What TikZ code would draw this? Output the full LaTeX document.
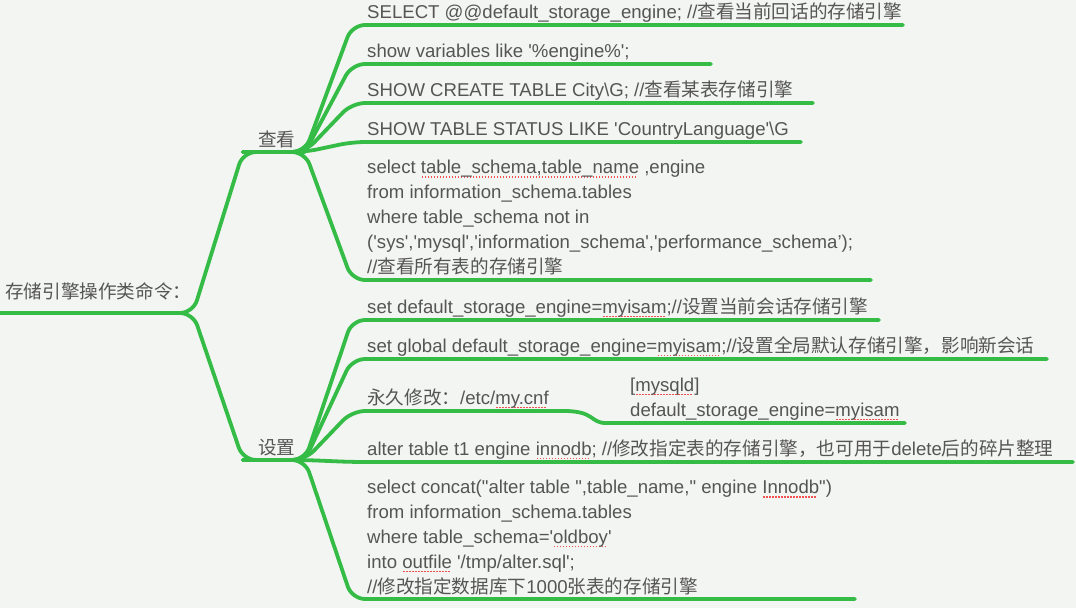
\documentclass[tikz,border=0pt]{standalone}
\usepackage{fontspec}
\newfontfamily\lat{Liberation Sans}
\newfontfamily\cjk{Noto Sans CJK SC}
\definecolor{bg}{HTML}{F3F5F2}
\definecolor{brc}{HTML}{35BC46}
\definecolor{tx}{HTML}{555555}
\definecolor{spellred}{HTML}{F05050}
\newcommand\spell[1]{\setbox0\hbox{#1}\rlap{\raisebox{-4pt}{\color{spellred}\hbox to\wd0{\leaders\hbox to 3pt{\hss\rule{1.4pt}{1.4pt}\hss}\hfill}}}\box0\relax}
\begin{document}
\begin{tikzpicture}[x=1pt,y=-1pt,
  txt/.style={anchor=base west, inner sep=0pt, text=tx, font=\lat\fontsize{18.6}{24.8}\selectfont, align=left},
  branch/.style={draw=brc, line width=3.8pt, rounded corners=13pt, line cap=round, line join=round}]
\fill[bg] (0,0) rectangle (1076,608);
\useasboundingbox (0,0) rectangle (1076,608);

% root
\node[txt] (root) at (5,298) {\cjk 存储引擎操作类命令：};
\coordinate (rootL) at (0,313);
\coordinate (rootR) at (193,313);

% level 1
\node[txt] (kan) at (258,146) {\cjk 查看};
\coordinate (kanL) at (243,152);
\coordinate (kanR) at (305,152);
\node[txt] (she) at (258,454) {\cjk 设置};
\coordinate (sheL) at (243,460);
\coordinate (sheR) at (305,460);

% children of kan
\node[txt] (k1) at (367,18) {SELECT @@default\_storage\_engine; //{\cjk 查看当前回话的存储引擎}};
\coordinate (k1L) at (352,25); \coordinate (k1R) at (903,25);
\node[txt] (k2) at (367,57) {show variables like '\%engine\%';};
\coordinate (k2L) at (352,64); \coordinate (k2R) at (711,64);
\node[txt] (k3) at (367,96) {SHOW CREATE TABLE City\textbackslash G; //{\cjk 查看某表存储引擎}};
\coordinate (k3L) at (352,103); \coordinate (k3R) at (813,103);
\node[txt] (k4) at (367,135) {SHOW TABLE STATUS LIKE 'CountryLanguage'\textbackslash G};
\coordinate (k4L) at (352,142); \coordinate (k4R) at (801,142);
\node[txt] (k5) at (367,273) {select \spell{table\_schema,table\_name} ,engine\\
from information\_schema.tables\\
where table\_schema not in\\
('sys','mysql','information\_schema','performance\_schema’);\\
//{\cjk 查看所有表的存储引擎}};
\coordinate (k5L) at (352,280); \coordinate (k5R) at (871,280);

% children of she
\node[txt] (s1) at (367,313) {set default\_storage\_engine=\spell{myisam};//{\cjk 设置当前会话存储引擎}};
\coordinate (s1L) at (352,320); \coordinate (s1R) at (879,320);
\node[txt] (s2) at (367,352) {set global default\_storage\_engine=\spell{myisam};//{\cjk 设置全局默认存储引擎，影响新会话}};
\coordinate (s2L) at (352,359); \coordinate (s2R) at (1047,359);
\node[txt] (s3) at (367,404) {{\cjk 永久修改：}/etc/\spell{my.cnf}};
\coordinate (s3L) at (352,411); \coordinate (s3R) at (564,411);
\node[txt] (s3a) at (630,416) {[\spell{mysqld}]\\default\_storage\_engine=\spell{myisam}};
\coordinate (s3aL) at (619,423); \coordinate (s3aR) at (905,423);
\node[txt] (s4) at (367,455) {alter table t1 engine \spell{innodb}; //{\cjk 修改指定表的存储引擎，也可用于}delete{\cjk 后的碎片整理}};
\coordinate (s4L) at (352,462); \coordinate (s4R) at (1073,462);
\node[txt] (s5) at (367,593) {select concat("alter table ",table\_name," engine \spell{Innodb}")\\
from information\_schema.tables\\
where table\_schema='\spell{oldboy}'\\
into \spell{outfile} '/tmp/alter.sql';\\
//{\cjk 修改指定数据库下}1000{\cjk 张表的存储引擎}};
\coordinate (s5L) at (352,599); \coordinate (s5R) at (855,599);

% connectors
\draw[branch] (rootL) -- (rootR) -- (kanL) -- (kanR);
\draw[branch] (rootL) -- (rootR) -- (sheL) -- (sheR);
\foreach \c in {k1,k2,k3,k4,k5}{
  \draw[branch] (kanL) -- (kanR) -- (\c L) -- (\c R);
}
\foreach \c in {s1,s2,s3,s4,s5}{
  \draw[branch] (sheL) -- (sheR) -- (\c L) -- (\c R);
}
\draw[branch] (s3R) .. controls (595,411) and (590,423) .. (s3aL) -- (s3aR);
\end{tikzpicture}
\end{document}
